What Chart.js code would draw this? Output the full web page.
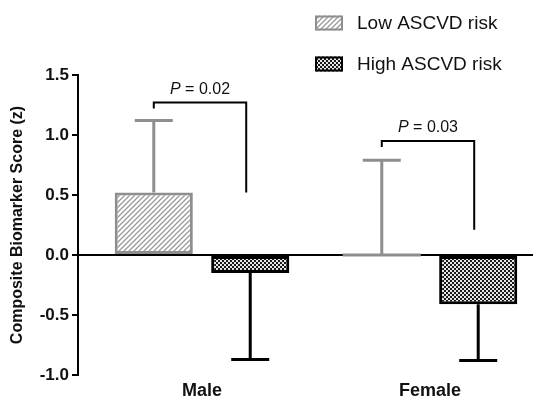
<!DOCTYPE html>
<html>
<head>
<meta charset="utf-8">
<script src="https://cdn.jsdelivr.net/npm/chart.js@4/dist/chart.umd.min.js"></script>
<style>
  body { margin: 0; background: #fff; }
  canvas { display: block; }
</style>
</head>
<body>
<canvas id="chart" width="533" height="399"></canvas>
<script>
const categories = ['Male', 'Female'];
const seriesNames = ['Low ASCVD risk', 'High ASCVD risk'];
const lowMeans = [0.52, 0.0];
const lowErrors = [0.60, 0.79];
const highMeans = [-0.15, -0.41];
const highErrors = [0.72, 0.47];
const yTicks = [-1.0, -0.5, 0.0, 0.5, 1.0, 1.5];
const pValues = ['0.02', '0.03'];
const bracketTops = [1.27, 0.95];
const bracketRightEnds = [0.52, 0.21];

const grayCol = '#8e8e8e';
const FONT = '"Liberation Sans", Arial, sans-serif';

function makeHatch() {
    const c = document.createElement('canvas');
    c.width = 5; c.height = 5;
    const g = c.getContext('2d');
    g.fillStyle = '#fff';
    g.fillRect(0, 0, 5, 5);
    g.strokeStyle = '#9a9a9a';
    g.lineWidth = 1.3;
    g.beginPath();
    g.moveTo(-1, 6); g.lineTo(6, -1);
    g.moveTo(-1, 1); g.lineTo(1, -1);
    g.moveTo(4, 6); g.lineTo(6, 4);
    g.stroke();
    return g.createPattern(c, 'repeat');
}

function makeChecker() {
    const c = document.createElement('canvas');
    c.width = 4; c.height = 4;
    const g = c.getContext('2d');
    g.fillStyle = '#1a1a1a';
    g.fillRect(0, 0, 4, 4);
    g.fillStyle = '#e6e6e6';
    g.fillRect(0, 0, 2, 2);
    g.fillRect(2, 2, 2, 2);
    return g.createPattern(c, 'repeat');
}

const hatch = makeHatch();
const checker = makeChecker();

const extras = {
    id: 'extras',
    afterDatasetsDraw(chart) {
        const ctx = chart.ctx;
        const y = chart.scales.y;
        const lowMeta = chart.getDatasetMeta(0).data;
        const highMeta = chart.getDatasetMeta(1).data;
        ctx.save();

        // zero-height bars drawn as a flat line
        lowMeta.forEach((b, i) => {
            if (lowMeans[i] === 0) {
                ctx.strokeStyle = grayCol;
                ctx.lineWidth = 3;
                ctx.beginPath();
                ctx.moveTo(b.x - b.width / 2, y.getPixelForValue(0));
                ctx.lineTo(b.x + b.width / 2, y.getPixelForValue(0));
                ctx.stroke();
            }
        });

        // error bars (one-sided)
        function whisker(b, from, to, col) {
            const y0 = y.getPixelForValue(from);
            const y1 = y.getPixelForValue(to);
            ctx.strokeStyle = col;
            ctx.lineWidth = 3;
            ctx.beginPath();
            ctx.moveTo(b.x, y0);
            ctx.lineTo(b.x, y1);
            ctx.moveTo(b.x - 19, y1);
            ctx.lineTo(b.x + 19, y1);
            ctx.stroke();
        }
        lowMeta.forEach((b, i) => whisker(b, lowMeans[i], lowMeans[i] + lowErrors[i], grayCol));
        highMeta.forEach((b, i) => whisker(b, highMeans[i], highMeans[i] - highErrors[i], '#000'));

        // significance brackets
        categories.forEach((c, i) => {
            const xl = lowMeta[i].x;
            const xr = highMeta[i].x - 4;
            const yt = y.getPixelForValue(bracketTops[i]);
            ctx.strokeStyle = '#000';
            ctx.lineWidth = 2;
            ctx.beginPath();
            ctx.moveTo(xl, yt + 6);
            ctx.lineTo(xl, yt);
            ctx.lineTo(xr, yt);
            ctx.lineTo(xr, y.getPixelForValue(bracketRightEnds[i]));
            ctx.stroke();

            const rest = ' = ' + pValues[i];
            ctx.font = 'italic 16px ' + FONT;
            const wp = ctx.measureText('P').width;
            ctx.font = '16px ' + FONT;
            const wr = ctx.measureText(rest).width;
            const x0 = (xl + xr) / 2 - (wp + wr) / 2;
            ctx.fillStyle = '#111';
            ctx.textBaseline = 'alphabetic';
            ctx.textAlign = 'left';
            ctx.font = 'italic 16px ' + FONT;
            ctx.fillText('P', x0, yt - 9);
            ctx.font = '16px ' + FONT;
            ctx.fillText(rest, x0 + wp, yt - 9);
        });

        // legend
        const fills = [hatch, checker];
        const borders = [grayCol, '#000'];
        const rows = [23, 64];
        seriesNames.forEach((name, i) => {
            ctx.fillStyle = fills[i];
            ctx.fillRect(315, rows[i] - 7.5, 28, 15);
            ctx.strokeStyle = borders[i];
            ctx.lineWidth = 2;
            ctx.strokeRect(316, rows[i] - 6.5, 26, 13);
            ctx.fillStyle = '#111';
            ctx.font = '19px ' + FONT;
            ctx.textBaseline = 'middle';
            ctx.fillText(name, 357, rows[i] + 1);
        });
        ctx.restore();
    }
};

new Chart(document.getElementById('chart'), {
    type: 'bar',
    data: {
        datasets: [{
            label: seriesNames[0],
            data: lowMeans.map((v, i) => ({ x: i, y: v })),
            backgroundColor: hatch,
            borderColor: grayCol,
            borderWidth: 3,
            borderSkipped: false
        }, {
            label: seriesNames[1],
            data: highMeans.map((v, i) => ({ x: i, y: v })),
            backgroundColor: checker,
            borderColor: '#000',
            borderWidth: 3,
            borderSkipped: false
        }]
    },
    options: {
        responsive: false,
        animation: false,
        categoryPercentage: 0.846,
        barPercentage: 0.81,
        layout: { padding: { top: 75, right: 0, bottom: 0, left: 0 } },
        plugins: {
            legend: { display: false },
            tooltip: { enabled: false }
        },
        scales: {
            x: {
                type: 'linear',
                offset: false,
                min: -0.5439,
                max: 1.4518,
                afterBuildTicks: s => { s.ticks = categories.map((c, i) => ({ value: i })); },
                afterFit: s => { s.height = 24; },
                grid: { display: false, drawTicks: false, offset: false },
                border: { display: false },
                ticks: {
                    callback: v => categories[v],
                    font: { family: FONT, size: 18, weight: 'bold' },
                    color: '#111',
                    padding: 5,
                    maxRotation: 0
                }
            },
            y: {
                min: -1,
                max: 1.5,
                afterBuildTicks: s => { s.ticks = yTicks.map(v => ({ value: v })); },
                afterFit: s => { s.width = 78; },
                border: { display: true, color: '#000', width: 2 },
                grid: {
                    color: c => c.tick && c.tick.value === 0 ? '#000' : 'rgba(0,0,0,0)',
                    lineWidth: 2,
                    tickColor: '#000',
                    tickWidth: 2,
                    tickLength: 6
                },
                ticks: {
                    callback: v => v.toFixed(1),
                    font: { family: FONT, size: 17, weight: 'bold' },
                    color: '#111',
                    padding: 3
                },
                title: {
                    display: true,
                    text: 'Composite Biomarker Score (z)',
                    font: { family: FONT, size: 16, weight: 'bold' },
                    color: '#111',
                    padding: { top: 8, bottom: 0 }
                }
            }
        }
    },
    plugins: [extras]
});
</script>
</body>
</html>
